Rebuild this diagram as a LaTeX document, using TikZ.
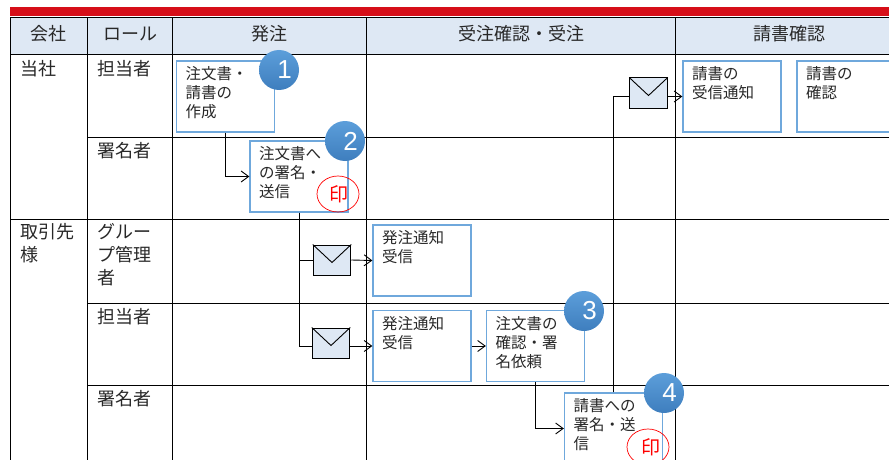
\documentclass[tikz,border=0pt]{standalone}
\usepackage{fontspec}
\setmainfont{Noto Sans CJK JP}
\newfontfamily\numfont{Liberation Sans}
\usetikzlibrary{calc, arrows.meta, shapes.geometric}
\definecolor{headfill}{RGB}{222,232,244}
\definecolor{boxline}{RGB}{111,168,220}
\definecolor{inkgray}{RGB}{40,40,40}
\definecolor{bandred}{RGB}{214,14,24}
\definecolor{ballhi}{RGB}{92,158,218}
\definecolor{balllo}{RGB}{62,126,190}
\tikzset{
  gridline/.style={draw=black, line width=1pt},
  headtext/.style={font=\fontsize{18}{20}\selectfont, text=inkgray, inner sep=0pt},
  rowtext/.style={font=\fontsize{18}{23}\selectfont, text=inkgray, inner sep=0pt, anchor=north west, align=left},
  flowbox/.style={draw=boxline, line width=1.3pt, fill=white, minimum width=98pt, minimum height=71pt, inner sep=0pt},
  boxtext/.style={font=\fontsize{15.5}{19}\selectfont, text=inkgray, inner sep=0pt, anchor=north west, align=left, xshift=9.5pt, yshift=-6pt},
  numball/.style={circle, minimum size=40pt, inner sep=0pt, top color=ballhi, bottom color=balllo, text=white, font=\numfont\fontsize{26}{26}\selectfont},
  seal/.style={draw=red, line width=0.7pt, ellipse, minimum width=42pt, minimum height=36pt, inner sep=0pt, text=red, font=\fontsize{19}{20}\selectfont},
  mailbox/.style={draw=black, line width=1pt, fill=headfill, minimum width=37.5pt, minimum height=30pt, inner sep=0pt},
  link/.style={draw=black, line width=0.9pt},
  linkto/.style={link, -{Straight Barb[length=7.5pt, width=11pt]}},
}
\begin{document}
\begin{tikzpicture}[x=1pt, y=-1pt]
  \useasboundingbox (0,0) rectangle (889,460);
  \clip (0,0) rectangle (889,460);

  % band and header
  \fill[bandred] (10,7) rectangle (889,16);
  \fill[headfill] (10,18) rectangle (889,55);

  % grid
  \draw[gridline] (889,18) -- (10,18) -- (10,460);
  \draw[gridline] (10,55) -- (889,55);
  \draw[gridline] (10,219.5) -- (889,219.5);
  \draw[gridline] (87,137) -- (889,137);
  \draw[gridline] (87,303) -- (889,303);
  \draw[gridline] (87,385) -- (889,385);
  \draw[gridline] (87.5,18) -- (87.5,460);
  \draw[gridline] (172.5,18) -- (172.5,460);
  \draw[gridline] (366.5,18) -- (366.5,460);
  \draw[gridline] (675,18) -- (675,460);

  % header
  \node[headtext] (headco) at (48.5,34) {会社};
  \node[headtext] (headrole) at (130,34) {ロール};
  \node[headtext] (headorder) at (269.5,34) {発注};
  \node[headtext] (headaccept) at (521,34) {受注確認・受注};
  \node[headtext] (headinvoice) at (789,34) {請書確認};

  % rows
  \node[rowtext] (coself) at (20,60) {当社};
  \node[rowtext] (copartner) at (20,223) {取引先\\様};
  \node[rowtext] (roleA) at (97,60) {担当者};
  \node[rowtext] (roleB) at (97,142) {署名者};
  \node[rowtext] (roleC) at (97,223) {グルー\\プ管理\\者};
  \node[rowtext] (roleD) at (97,308) {担当者};
  \node[rowtext] (roleE) at (97,390) {署名者};

  % boxes
  \node[flowbox] (make) at (225.5,96.5) {};
  \node[flowbox] (sign) at (299,176.5) {};
  \node[flowbox] (recvA) at (422,260.5) {};
  \node[flowbox] (recvB) at (422,346) {};
  \node[flowbox] (check) at (535.5,346) {};
  \node[flowbox] (reply) at (613.5,428.5) {};
  \node[flowbox] (recvC) at (732,96.5) {};
  \node[flowbox] (confirm) at (846,96.5) {};

  \node[boxtext] (maketext) at (make.north west) {注文書・\\請書の\\作成};
  \node[boxtext] (signtext) at (sign.north west) {注文書へ\\の署名・\\送信};
  \node[boxtext] (recvAtext) at (recvA.north west) {発注通知\\受信};
  \node[boxtext] (recvBtext) at (recvB.north west) {発注通知\\受信};
  \node[boxtext] (checktext) at (check.north west) {注文書の\\確認・署\\名依頼};
  \node[boxtext] (replytext) at (reply.north west) {請書への\\署名・送\\信};
  \node[boxtext] (recvCtext) at (recvC.north west) {請書の\\受信通知};
  \node[boxtext] (confirmtext) at (confirm.north west) {請書の\\確認};

  % envelopes
  \node[mailbox] (mailA) at (332,260) {};
  \node[mailbox] (mailB) at (331,343) {};
  \node[mailbox] (mailC) at (648.5,93) {};
  \draw[link] (mailA.north west) -- ($(mailA.north)+(0,18)$) -- (mailA.north east);
  \draw[link] (mailB.north west) -- ($(mailB.north)+(0,18)$) -- (mailB.north east);
  \draw[link] (mailC.north west) -- ($(mailC.north)+(0,18)$) -- (mailC.north east);

  % connectors
  \draw[linkto] (make.south) |- (sign.west);
  \draw[link] (sign.south) |- (mailA.west);
  \draw[link] (sign.south) |- (mailB.west |- recvB.west);
  \draw[linkto] (mailA.east) -- (recvA.west);
  \draw[linkto] (mailB.east |- recvB.west) -- (recvB.west);
  \draw[linkto] (recvB.east) -- (check.west);
  \draw[linkto] (check.south) |- (reply.west);
  \draw[link] (reply.north) |- (mailC.west |- recvC.west);
  \draw[linkto] (mailC.east |- recvC.west) -- (recvC.west);

  % number balls and seals
  \node[numball] (ballA) at (279,70) {\hspace{11pt}1};
  \node[numball] (ballB) at (345,141) {\hspace{11pt}2};
  \node[numball] (ballC) at (584,311) {\hspace{11pt}3};
  \node[numball] (ballD) at (664,393) {\hspace{11pt}4};
  \node[seal] (sealA) at (338,194) {\hspace{2pt}印};
  \node[seal] (sealB) at (648,447) {\hspace{5pt}印};
\end{tikzpicture}
\end{document}
